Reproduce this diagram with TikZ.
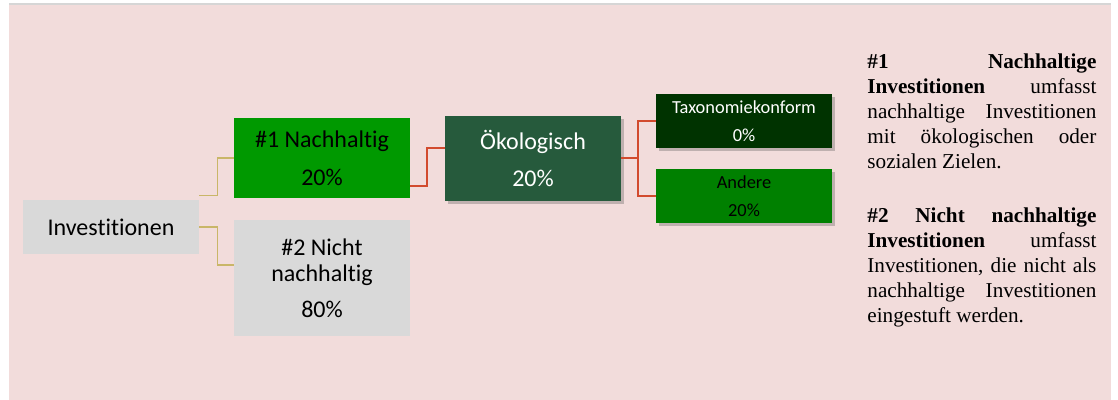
\documentclass[tikz,border=0pt]{standalone}
\usepackage{fontspec}
\setmainfont{Liberation Serif}
\newfontfamily\boxfont[Ligatures=NoCommon]{Carlito}
\usetikzlibrary{shadows}

\definecolor{bgpink}{HTML}{F2DCDB}
\definecolor{edgegray}{HTML}{D6D6D6}
\definecolor{boxgray}{HTML}{D9D9D9}
\definecolor{brightgreen}{HTML}{009900}
\definecolor{okogreen}{HTML}{265A3C}
\definecolor{taxgreen}{HTML}{003300}
\definecolor{othergreen}{HTML}{008000}
\definecolor{tanline}{HTML}{C9B668}
\definecolor{redline}{HTML}{D24B2E}

\begin{document}
\begin{tikzpicture}[
    x=0.5pt, y=-0.5pt,
    % Styles
    catbox/.style={fill=#1, minimum width=88pt, minimum height=27pt,
        inner sep=0pt, align=center, font=\boxfont\fontsize{12}{13}\selectfont},
    subbox/.style={catbox=#1, drop shadow={shadow xshift=1.5pt, shadow yshift=-1.5pt,
        opacity=0.3, fill=black!70}},
    smallbox/.style={subbox=#1, font=\boxfont\fontsize{9.2}{11}\selectfont},
    tanlink/.style={draw=tanline, line width=0.7pt},
    redlink/.style={draw=redline, line width=1pt},
    notetext/.style={anchor=north west, inner sep=0pt, text width=114.5pt,
        font=\fontsize{10.6}{12.5}\selectfont, align=justify}
]
\useasboundingbox (0,0) rectangle (1118,400);

% --- Background ---
\fill[white] (0,0) rectangle (1118,400);
\fill[bgpink] (9,5) rectangle (1111,400);
\draw[edgegray, line width=1pt] (9,4.5) -- (1111,4.5);

% --- Boxes ---
\node[catbox=boxgray] (invest) at (111,227) {Investitionen};
\node[catbox=brightgreen, minimum height=40pt] (sust) at (322,158) {\#1 Nachhaltig\\[6pt]20\%};
\node[catbox=boxgray, minimum height=58pt] (nonsust) at (322,278) {\#2 Nicht\\nachhaltig\\[5pt]80\%};
\node[subbox=okogreen, minimum height=42.5pt, text=white] (eco) at (533,158.5) {Ökologisch\\[5.5pt]20\%};
\node[smallbox=taxgreen, text=white] (taxo) at (744,121) {Taxonomiekonform\\[3pt]0\%};
\node[smallbox=othergreen] (other) at (744,196) {Andere\\[3pt]20\%};

% --- Connectors ---
\draw[tanlink] ([yshift=2pt]invest.north east) -- ++(9pt,0) |- (sust.west);
\draw[tanlink] (invest.east) -- ++(9pt,0) |- ([yshift=6.5pt]nonsust.west);
\draw[redlink] ([yshift=-14pt]sust.east) -- ++(8.5pt,0) |- ([yshift=5.25pt]eco.west);
\draw[redlink] (eco.east) -- ++(8.5pt,0) |- (taxo.west);
\draw[redlink] (eco.east) -- ++(8.5pt,0) |- (other.west);

% --- Notes ---
\node[notetext] (notes) at (867,53.5) {\tolerance=10000\hyphenpenalty=10000
    \textbf{\#1 Nachhaltige}\linebreak
    \textbf{Investitionen} umfasst\linebreak
    nachhaltige Investitionen\linebreak
    mit ökologischen oder\linebreak
    sozialen Zielen.\par\vspace{14.3pt}
    \textbf{\#2 Nicht nachhaltige}\linebreak
    \textbf{Investitionen} umfasst\linebreak
    Investitionen, die nicht als\linebreak
    nachhaltige Investitionen\linebreak
    eingestuft werden.};

\end{tikzpicture}
\end{document}
